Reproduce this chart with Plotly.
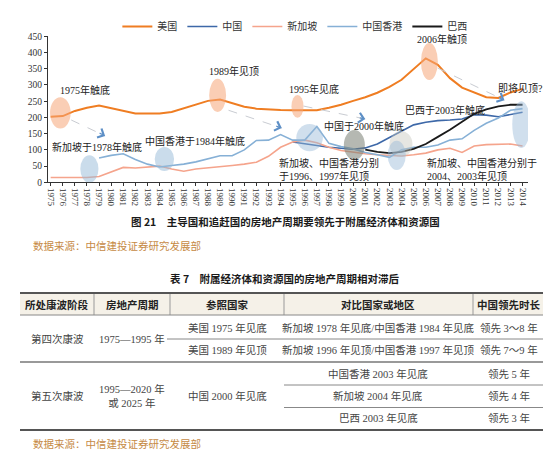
import plotly.graph_objects as go

# chart data
years = list(range(1975, 2015))
us = [202, 204, 220, 230, 237, 229, 220, 212, 212, 212,
      217, 229, 241, 251, 255, 245, 233, 227, 224, 223,
      222, 222, 222, 230, 239, 251, 262, 276, 294, 316,
      350, 382, 362, 321, 292, 278, 262, 260, 277, 288]
china_years = list(range(1995, 2015))
china = [124, 118, 113, 108, 105, 102, 106, 118, 138, 157,
         177, 185, 190, 192, 195, 208, 207, 202, 210, 216]
singapore = [15, 15, 15, 15, 18, 32, 46, 44, 48, 50,
             41, 34, 41, 44, 48, 52, 56, 62, 80, 108,
             124, 130, 122, 108, 98, 92, 88, 85, 82, 81,
             85, 90, 100, 105, 92, 112, 116, 116, 118, 112]
hk_years = list(range(1979, 2015))
hongkong = [75, 83, 88, 70, 56, 47, 52, 56, 63, 72,
            82, 82, 100, 129, 130, 147, 130, 130, 172, 120,
            110, 103, 92, 85, 77, 100, 108, 108, 115, 130,
            134, 160, 182, 198, 222, 227]
brazil_years = list(range(2001, 2015))
brazil = [101, 94, 90, 94, 103, 118, 140, 162, 187, 211, 225, 234, 239, 239]

series_names = ['美国', '中国', '新加坡', '中国香港', '巴西']

# table text
table_header = ['所处康波阶段', '房地产周期', '参照国家', '对比国家或地区', '中国领先时长']
wave_names = ['第四次康波', '第五次康波']
wave_periods = ['1975—1995 年', '1995—2020 年<br>或 2025 年']
ref_events = ['美国 1975 年见底', '美国 1989 年见顶', '中国 2000 年见底']
compare_events = ['新加坡 1978 年见底/中国香港 1984 年见底',
                  '新加坡 1996 年见顶/中国香港 1997 年见顶',
                  '中国香港 2003 年见底', '新加坡 2004 年见底', '巴西 2003 年见底']
lead_times = ['领先 3～8 年', '领先 7～9 年', '领先 5 年', '领先 4 年', '领先 3 年']

W, H = 557, 451
SERIF = 'Liberation Serif, Noto Sans CJK SC'
SANS = 'Noto Sans CJK SC'


def px(x, y):
    """ pixel position -> paper coords """
    return x / W, 1 - y / H


fig = go.Figure()
fig.add_trace(go.Scatter(x=years, y=us, name=series_names[0], mode='lines',
                         line=dict(color='#ef7d22', width=2)))
fig.add_trace(go.Scatter(x=china_years, y=china, name=series_names[1], mode='lines',
                         line=dict(color='#3d68a8', width=1.6)))
fig.add_trace(go.Scatter(x=years, y=singapore, name=series_names[2], mode='lines',
                         line=dict(color='#f5a48c', width=1.6)))
fig.add_trace(go.Scatter(x=hk_years, y=hongkong, name=series_names[3], mode='lines',
                         line=dict(color='#86b0d6', width=1.6)))
fig.add_trace(go.Scatter(x=brazil_years, y=brazil, name=series_names[4], mode='lines',
                         line=dict(color='#1a1a1a', width=1.8)))

shapes = []
annotations = []

# shaded ellipses (center x, center y, half width in years, half height)
ellipses = [
    (1975.8, 214, 0.85, 48, 'rgba(246,165,120,0.55)'),
    (1978.2, 41, 0.75, 42, 'rgba(150,185,215,0.5)'),
    (1984.4, 72, 0.8, 37, 'rgba(150,185,215,0.5)'),
    (1988.8, 268, 0.7, 51, 'rgba(246,165,120,0.55)'),
    (1995.4, 234, 0.5, 35, 'rgba(246,165,120,0.55)'),
    (1996.4, 138, 1.1, 42, 'rgba(150,185,215,0.45)'),
    (2000.1, 115, 0.87, 46, 'rgba(120,125,115,0.55)'),
    (2003.95, 118, 0.95, 40, 'rgba(200,200,190,0.45)'),
    (2003.6, 83, 0.75, 45, 'rgba(150,185,215,0.45)'),
    (2006.3, 372, 0.7, 57, 'rgba(246,165,120,0.55)'),
    (2013.9, 178, 0.75, 72, 'rgba(150,185,215,0.45)'),
]
for cx, cy, rx, ry, col in ellipses:
    shapes.append(dict(type='circle', xref='x', yref='y',
                       x0=cx - rx, x1=cx + rx, y0=cy - ry, y1=cy + ry,
                       fillcolor=col, line=dict(width=0), layer='above'))

# dashed lead arrows
arrows = [
    (1976.7, 192, 1979.5, 143, -7, -3.5),
    (1989.7, 222, 1994.1, 167, -7, -2.5),
    (1995.9, 235, 2001.0, 195, -7, -1.5),
    (2007.0, 352, 2012.5, 253, -7, -3.5),
]
for x0, y0, x1, y1, ax, ay in arrows:
    shapes.append(dict(type='line', xref='x', yref='y', x0=x0, y0=y0, x1=x1, y1=y1,
                       line=dict(color='#c9ccd2', width=1, dash='dash')))
    annotations.append(dict(x=x1, y=y1, xref='x', yref='y', text='', showarrow=True,
                            ax=ax, ay=ay, arrowhead=4, arrowsize=1.6, arrowwidth=1.2,
                            arrowcolor='#5d8fc6', standoff=0))

# chart labels: (text, px x, px y, anchor)
chart_notes = [
    ('1975年触底', 77, 82, 'center'),
    ('新加坡于1978年触底', 89, 139, 'center'),
    ('中国香港于1984年触底', 187, 133, 'center'),
    ('1989年见顶', 226, 63, 'center'),
    ('1995年见底', 306, 81, 'center'),
    ('中国于2000年触底', 356, 118, 'center'),
    ('新加坡、中国香港分别<br>于1996、1997年见顶', 269, 162, 'left'),
    ('2006年触顶', 434, 31, 'center'),
    ('巴西于2003年触底', 437, 102, 'center'),
    ('即将见顶?', 512, 81, 'center'),
    ('新加坡、中国香港分别于<br>2004、2003年见顶', 417, 162, 'left'),
]
for t, x, y, anc in chart_notes:
    xp, yp = px(x, y)
    annotations.append(dict(x=xp, y=yp, xref='paper', yref='paper', text=t,
                            showarrow=False, xanchor=anc, yanchor='middle', align='left',
                            font=dict(family=SERIF, size=10, color='#222')))

# captions
xp, yp = px(277, 213)
annotations.append(dict(x=xp, y=yp, xref='paper', yref='paper', showarrow=False,
                        xanchor='center', yanchor='middle',
                        text='<b>图 21　主导国和追赶国的房地产周期要领先于附属经济体和资源国</b>',
                        font=dict(family=SANS, size=10.5, color='#1a1a1a')))
xp, yp = px(277, 270)
annotations.append(dict(x=xp, y=yp, xref='paper', yref='paper', showarrow=False,
                        xanchor='center', yanchor='middle',
                        text='<b>表 7　附属经济体和资源国的房地产周期相对滞后</b>',
                        font=dict(family=SANS, size=10.5, color='#1a1a1a')))
for y in (237, 435):
    xp, yp = px(23, y)
    annotations.append(dict(x=xp, y=yp, xref='paper', yref='paper', showarrow=False,
                            xanchor='left', yanchor='middle',
                            text='数据来源：中信建投证券研究发展部',
                            font=dict(family=SANS, size=10.5, color='#c68a45')))

# table lines
def hline(y, x0, x1, w, col):
    a0, b0 = px(x0, y)
    a1, b1 = px(x1, y)
    shapes.append(dict(type='line', xref='paper', yref='paper', x0=a0, y0=b0, x1=a1, y1=b1,
                       line=dict(color=col, width=w)))

a0, b0 = px(12, 285)
a1, b1 = px(535, 307)
shapes.append(dict(type='rect', xref='paper', yref='paper', x0=a0, y0=b0, x1=a1, y1=b1,
                   fillcolor='#f5f1e8', line=dict(width=0), layer='below'))
for x in (86, 162, 276, 465):
    a0, b0 = px(x, 285)
    a1, b1 = px(x, 307)
    shapes.append(dict(type='line', xref='paper', yref='paper', x0=a0, y0=b0, x1=a1, y1=b1,
                       line=dict(color='#999', width=1)))
hline(285, 12, 535, 2, '#555')
hline(307, 12, 535, 1, '#888')
hline(331, 159, 535, 1, '#888')
hline(354, 12, 535, 1.5, '#777')
hline(377, 276, 535, 1, '#888')
hline(399.5, 276, 535, 1, '#888')
hline(422, 12, 535, 2, '#555')

col_x = [49, 124, 219, 370, 501]
for t, x in zip(table_header, col_x):
    xp, yp = px(x, 296.5)
    annotations.append(dict(x=xp, y=yp, xref='paper', yref='paper', showarrow=False,
                            xanchor='center', yanchor='middle',
                            text='<b>%s</b>' % t, font=dict(family=SANS, size=10.5, color='#222')))

cells = [
    (wave_names[0], 0, 331), (wave_periods[0], 1, 331),
    (wave_names[1], 0, 388), (wave_periods[1], 1, 388),
    (ref_events[0], 2, 320), (ref_events[1], 2, 342), (ref_events[2], 2, 388),
]
row_y = [320, 342, 365.5, 388, 410]
for t, y in zip(compare_events, row_y):
    cells.append((t, 3, y))
for t, y in zip(lead_times, row_y):
    cells.append((t, 4, y))
for t, c, y in cells:
    xp, yp = px(col_x[c], y)
    annotations.append(dict(x=xp, y=yp, xref='paper', yref='paper', showarrow=False,
                            xanchor='center', yanchor='middle',
                            text=t, font=dict(family=SERIF, size=10.5, color='#444')))

x0, _ = px(40, 0)
x1, _ = px(520, 0)
_, y0 = px(0, 174.3)
_, y1 = px(0, 28.3)

fig.update_layout(
    width=W, height=H,
    margin=dict(l=0, r=0, t=0, b=0),
    paper_bgcolor='white', plot_bgcolor='white',
    showlegend=True,
    legend=dict(orientation='h', x=0.515, xanchor='center', y=1 - 4 / H, yanchor='top',
                font=dict(family=SANS, size=10, color='#333'), bgcolor='rgba(0,0,0,0)',
                itemwidth=30),
    xaxis=dict(domain=[x0, x1], range=[1974.78, 2014.45], tickmode='array',
               tickvals=years, ticktext=[str(y) for y in years], tickangle=90,
               tickfont=dict(family='Liberation Serif', size=9, color='#333'),
               showline=True, linecolor='#333', linewidth=1, ticks='outside', ticklen=3,
               tickcolor='#333', showgrid=False, zeroline=False, automargin=False),
    yaxis=dict(domain=[y0, y1], range=[0, 450], dtick=50,
               tickfont=dict(family='Liberation Serif', size=9.5, color='#333'),
               showline=True, linecolor='#333', linewidth=1, ticks='outside', ticklen=3,
               tickcolor='#333', showgrid=False, zeroline=False, automargin=False),
    shapes=shapes,
    annotations=annotations,
)

fig.write_html('out.html')
